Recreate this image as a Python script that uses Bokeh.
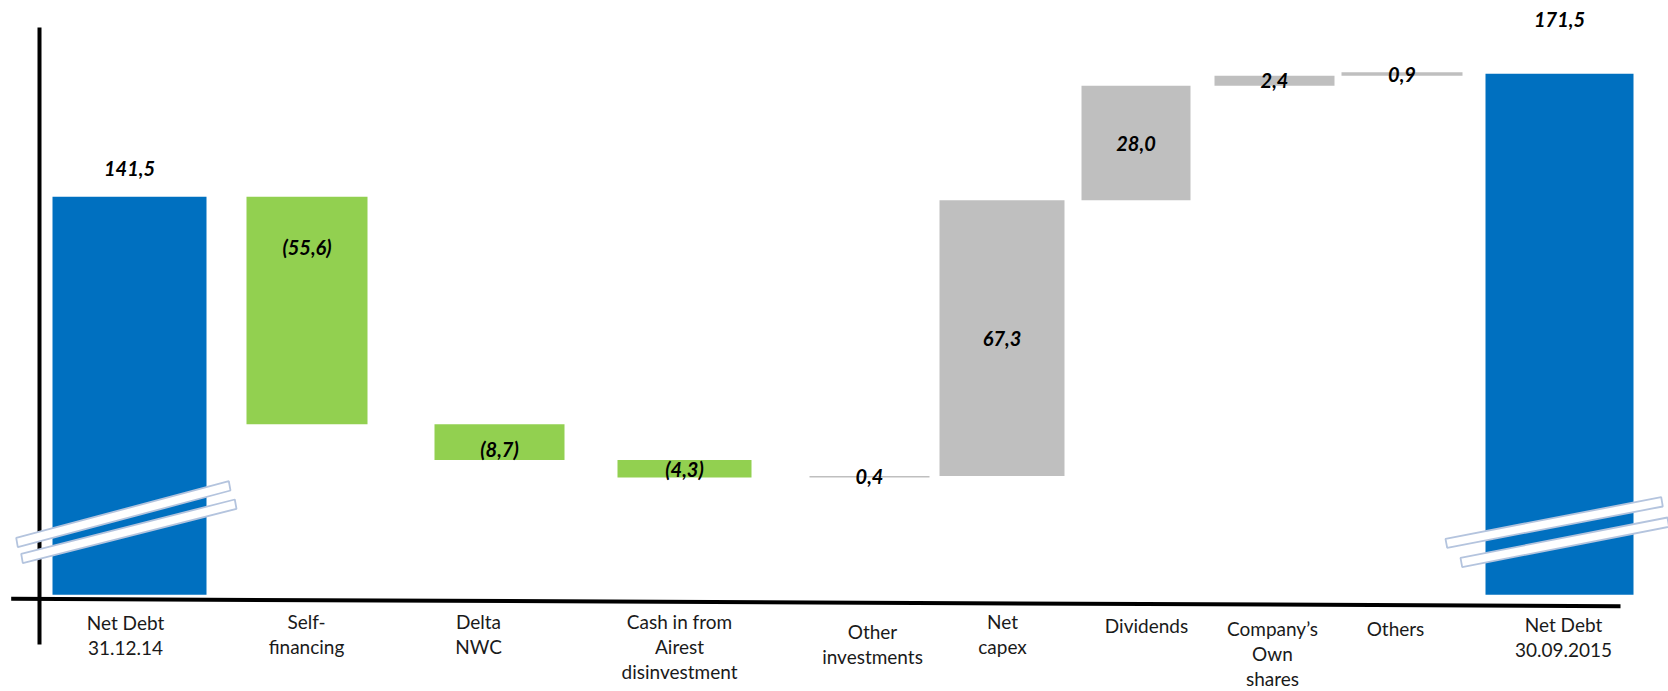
from bokeh.plotting import figure
from bokeh.models import Range1d, ColumnDataSource
from bokeh.core.properties import value
from bokeh.embed import file_html
from bokeh.resources import INLINE

# ---------------- data ----------------
categories = ["Net Debt\n31.12.14", "Self-\nfinancing", "Delta\nNWC",
              "Cash in from\nAirest\ndisinvestment", "Other\ninvestments",
              "Net\ncapex", "Dividends", "Company\u2019s\nOwn\nshares",
              "Others", "Net Debt\n30.09.2015"]
kinds = ["total", "delta", "delta", "delta", "delta",
         "delta", "delta", "delta", "delta", "total"]
values = [141.5, -55.6, -8.7, -4.3, 0.4, 67.3, 28.0, 2.4, 0.9, 171.5]

# ---------------- layout ----------------
W, H = 1668, 691
Y_TOP, Y_BOT = 189.40, 20.66          # value range shown (broken axis)
BREAK_BASE = 44.3                      # where the broken total bars stop

def pv(py):
    """pixel row (from top) -> value on the y scale"""
    return Y_TOP - py * (Y_TOP - Y_BOT) / H

centers = [129, 306.5, 499, 684, 869, 1001.5, 1135.5, 1274, 1401.5, 1559]
widths = [154, 121, 130, 134, 120, 125, 109, 120, 121, 148]
label_off = [-28, -63, 7, 0, 0, 0, 0, 0, 0, -54]
cat_x = [125, 306, 478, 679, 872, 1002, 1146, 1272, 1395, 1563]
cat_y = [610, 609, 609, 609, 619, 609, 613, 616, 616, 612]

BLUE, GREEN, GREY = "#0070C0", "#92D050", "#BFBFBF"

def fmt(v):
    s = f"{abs(v):.1f}".replace(".", ",")
    return f"({s})" if v < 0 else s

bottoms, tops, colors, anchor = [], [], [], []
running = None
for k, v in zip(kinds, values):
    if k == "total":
        bottoms.append(BREAK_BASE)
        tops.append(v)
        colors.append(BLUE)
        anchor.append(v)
        running = v
    else:
        start, end = running, running + v
        bottoms.append(min(start, end))
        tops.append(max(start, end))
        colors.append(GREEN if v < 0 else GREY)
        anchor.append((start + end) / 2)
        running = end

src = ColumnDataSource(dict(
    left=[c - w / 2 for c, w in zip(centers, widths)],
    right=[c + w / 2 for c, w in zip(centers, widths)],
    top=tops, bottom=bottoms, color=colors,
    lx=centers, ly=anchor, loff=label_off,
    label=[fmt(v) for v in values],
))

cat_src = ColumnDataSource(dict(
    x=cat_x, y=[pv(py) for py in cat_y], text=categories))

p = figure(width=W, height=H, x_range=Range1d(0, W), y_range=Range1d(Y_BOT, Y_TOP),
           output_backend="svg", toolbar_location=None, min_border=0,
           x_axis_location=None, y_axis_location=None, title=None)
p.outline_line_color = None
p.background_fill_color = "white"
p.border_fill_color = "white"
p.xgrid.visible = False
p.ygrid.visible = False

p.quad(left="left", right="right", top="top", bottom="bottom",
       fill_color="color", line_color=None, source=src)

# axis lines
p.line(x=[39, 39], y=[pv(27), pv(644)], line_color="black", line_width=4)
p.line(x=[10.7, 1620], y=[pv(598.3), pv(605.7)], line_color="black", line_width=4)

# axis-break marks
brk_x = [[15.7, 228.3, 230.0, 17.3], [20.7, 234.3, 236.0, 22.3],
         [1445.0, 1660.7, 1662.3, 1446.7], [1460.0, 1667.0, 1668.5, 1461.7]]
brk_py = [[537.3, 480.7, 490.0, 546.7], [553.3, 499.0, 508.3, 562.7],
          [538.3, 496.7, 506.0, 547.3], [557.3, 517.0, 526.3, 566.6]]
p.patches(xs=brk_x, ys=[[pv(v) for v in row] for row in brk_py],
          fill_color="white", line_color="#B4C4DE", line_width=1.8)

# value labels
p.text(x="lx", y="ly", text="label", y_offset="loff", source=src,
       text_font=value("Lato"), text_font_style="bold italic",
       text_font_size="20px", text_color="black",
       text_align="center", text_baseline="middle")

# category labels
p.text(x="x", y="y", text="text", source=cat_src,
       text_font=value("Lato"), text_font_size="19px", text_color="#1a1a1a",
       text_align="center", text_baseline="top", text_line_height=1.1)

open("out.html", "w").write(file_html(p, INLINE))
